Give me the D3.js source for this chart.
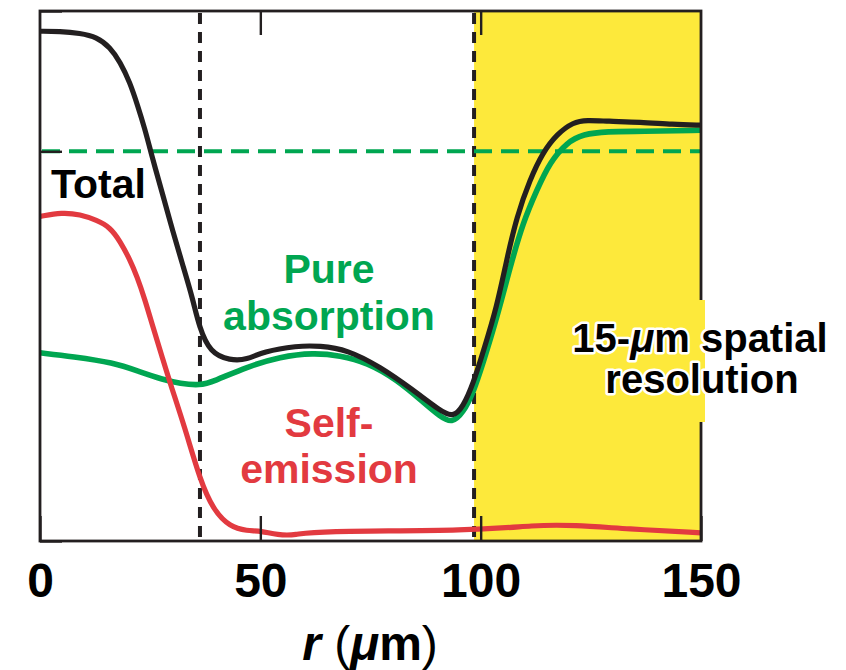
<!DOCTYPE html>
<html>
<head>
<meta charset="utf-8">
<script src="https://cdn.jsdelivr.net/npm/d3@7"></script>
<style>
  html, body { margin: 0; padding: 0; background: #ffffff; }
  svg { display: block; }
  text { font-family: "Liberation Sans", Arial, Helvetica, sans-serif; font-weight: bold; }
</style>
</head>
<body>
<svg id="chart" width="846" height="670"></svg>
<script>
// ---- data (r in µm, intensity in arbitrary units; 1.0 = pure-absorption reference level) ----
const xTicks = [0, 50, 100, 150];
const xTickLabels = ["0", "50", "100", "150"];
const yTicks = [0, 1, 1.36];

const rTotal = [0, 4.5, 9.1, 12.9, 15.9, 18.2, 20.4, 22.2, 23.8, 25, 26.1, 27.7, 30.2, 32.5, 34.7, 36.1, 38.6, 43.1, 47, 50.6, 58.3, 63.5, 69.7, 77.2, 84.6, 90.8, 93.7, 96, 98.3, 100.5, 103.7, 105.9, 108.2, 111.2, 114.1, 117.3, 121, 124.1, 128.7, 136.2, 143.6, 150];
const total  = [1.308, 1.308, 1.303, 1.293, 1.267, 1.229, 1.177, 1.116, 1.057, 1.005, 0.959, 0.895, 0.792, 0.704, 0.62, 0.55, 0.483, 0.463, 0.465, 0.486, 0.501, 0.501, 0.491, 0.447, 0.388, 0.334, 0.317, 0.344, 0.404, 0.483, 0.602, 0.722, 0.833, 0.928, 0.997, 1.044, 1.075, 1.08, 1.077, 1.075, 1.069, 1.067];

const rAbs = [0, 7.5, 16.6, 22.7, 27.9, 31.8, 36.3, 39.3, 47, 54.5, 62, 68.1, 74.2, 81, 86.9, 90.8, 93.5, 96, 98.3, 100.5, 103.7, 106.7, 109.6, 112.8, 115.7, 119.6, 123.2, 128.7, 136.2, 150];
const pureAbsorption = [0.483, 0.473, 0.458, 0.434, 0.414, 0.404, 0.399, 0.409, 0.447, 0.473, 0.483, 0.476, 0.458, 0.414, 0.357, 0.319, 0.302, 0.329, 0.38, 0.455, 0.573, 0.704, 0.817, 0.902, 0.972, 1.023, 1.044, 1.051, 1.051, 1.054];

const rSelf = [0, 5, 9.1, 12.9, 15.9, 18.2, 20.4, 22, 23.8, 25.6, 27.7, 29.5, 32.9, 36.3, 39.3, 43.1, 47, 50.2, 53.8, 58.3, 61.5, 98.9, 112.3, 121, 133.2, 150];
const selfEmission = [0.833, 0.843, 0.838, 0.823, 0.805, 0.769, 0.722, 0.679, 0.62, 0.55, 0.473, 0.406, 0.29, 0.157, 0.08, 0.036, 0.026, 0.026, 0.015, 0.015, 0.026, 0.026, 0.041, 0.041, 0.031, 0.021];

const markerLines = [36.3, 98.5];       // dashed vertical lines (µm)
const resolutionBand = [98.5, 150];      // yellow band (µm)
const referenceLevel = 1.0;              // green dashed level

// ---- layout ----
const svg = d3.select("#chart");
const L = 40, R = 701, T = 11, B = 541;
const x = d3.scaleLinear().domain([0, 150]).range([L, R]);
const y = d3.scaleLinear().domain([0, 1.36]).range([B, T]);
const ink = "#231f20", green = "#00a651", red = "#e23a40", yellow = "#fde93b";

// yellow band
svg.append("rect")
  .attr("x", x(resolutionBand[0])).attr("y", T)
  .attr("width", x(resolutionBand[1]) - x(resolutionBand[0])).attr("height", B - T)
  .attr("fill", yellow);

// dashed verticals
svg.selectAll("line.vmark").data(markerLines).enter().append("line")
  .attr("class", "vmark")
  .attr("x1", d => x(d)).attr("x2", d => x(d))
  .attr("y1", T + 2).attr("y2", B)
  .attr("stroke", ink).attr("stroke-width", 4)
  .attr("stroke-dasharray", "11,8");

// green dashed reference
svg.append("line")
  .attr("x1", L + 2).attr("x2", R)
  .attr("y1", y(referenceLevel)).attr("y2", y(referenceLevel))
  .attr("stroke", green).attr("stroke-width", 4)
  .attr("stroke-dasharray", "18,9");

// curves
const mk = (rs) => d3.line().x((d, i) => x(rs[i])).y(d => y(d)).curve(d3.curveBasis);
svg.append("path").datum(pureAbsorption).attr("d", mk(rAbs))
  .attr("fill", "none").attr("stroke", green).attr("stroke-width", 5.6);
svg.append("path").datum(selfEmission).attr("d", mk(rSelf))
  .attr("fill", "none").attr("stroke", red).attr("stroke-width", 5.2);
svg.append("path").datum(total).attr("d", mk(rTotal))
  .attr("fill", "none").attr("stroke", ink).attr("stroke-width", 5.2);

// frame
svg.append("rect").attr("x", L).attr("y", T).attr("width", R - L).attr("height", B - T)
  .attr("fill", "none").attr("stroke", ink).attr("stroke-width", 2.8);

// axes (ticks inward)
const xAxis = svg.append("g").attr("transform", `translate(0,${B})`)
  .call(d3.axisBottom(x).tickValues(xTicks).tickSize(-25).tickPadding(22)
    .tickFormat((d, i) => xTickLabels[i]));
const xAxisTop = svg.append("g").attr("transform", `translate(0,${T})`)
  .call(d3.axisTop(x).tickValues(xTicks.slice(1, 3)).tickSize(-24).tickFormat(""));
const yAxis = svg.append("g").attr("transform", `translate(${L},0)`)
  .call(d3.axisLeft(y).tickValues(yTicks).tickSize(-22).tickFormat(""));
[xAxis, xAxisTop, yAxis].forEach(g => {
  g.select(".domain").remove();
  g.selectAll(".tick line").attr("stroke", ink).attr("stroke-width", 2.4);
});
xAxis.selectAll(".tick text")
  .attr("fill", "#000").attr("font-size", 48).attr("font-weight", "bold")
  .attr("font-family", "\"Liberation Sans\", Arial, sans-serif");

// yellow box extension behind label
svg.append("rect").attr("x", 690).attr("y", 300).attr("width", 15).attr("height", 122).attr("fill", yellow);

// annotations
svg.append("text").attr("x", 51).attr("y", 198).attr("font-size", 41).attr("fill", "#000").text("Total");

const abs = svg.append("text").attr("text-anchor", "middle").attr("font-size", 41).attr("fill", green);
abs.append("tspan").attr("x", 329).attr("y", 283).text("Pure");
abs.append("tspan").attr("x", 329).attr("y", 330).text("absorption");

const se = svg.append("text").attr("text-anchor", "middle").attr("font-size", 41).attr("fill", red);
se.append("tspan").attr("x", 329).attr("y", 437).text("Self-");
se.append("tspan").attr("x", 329).attr("y", 483).text("emission");

const res = svg.append("text").attr("text-anchor", "middle").attr("font-size", 40).attr("fill", "#000")
  .attr("stroke", "#fff").attr("stroke-width", 5).attr("stroke-linejoin", "round").attr("paint-order", "stroke");
const l1 = res.append("tspan").attr("x", 700).attr("y", 352);
l1.append("tspan").text("15-");
l1.append("tspan").attr("font-style", "italic").text("\u03bc");
l1.append("tspan").text("m spatial");
res.append("tspan").attr("x", 702).attr("y", 393).text("resolution");

// axis title
const xt = svg.append("text").attr("x", 370).attr("y", 660).attr("text-anchor", "middle")
  .attr("font-size", 48).attr("fill", "#000");
xt.append("tspan").attr("font-style", "italic").text("r");
xt.append("tspan").attr("font-weight", "normal").text(" (");
xt.append("tspan").attr("font-style", "italic").text("\u03bc");
xt.append("tspan").text("m");
xt.append("tspan").attr("font-weight", "normal").text(")");
</script>
</body>
</html>
